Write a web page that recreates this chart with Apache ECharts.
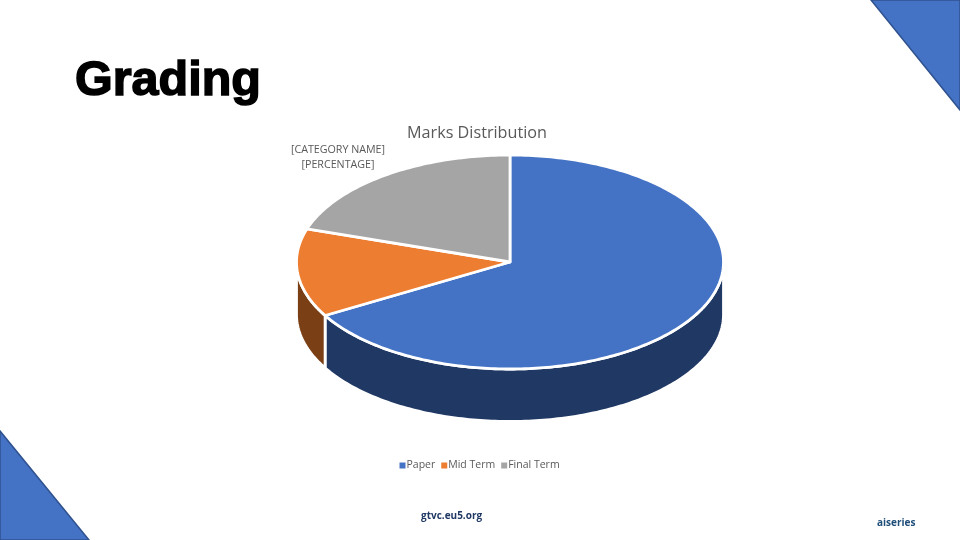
<!DOCTYPE html>
<html>
<head>
<meta charset="utf-8">
<title>Grading</title>
<style>
  html, body { margin: 0; padding: 0; background: #fff; }
  #chart { width: 960px; height: 540px; }
</style>
<script src="https://cdn.jsdelivr.net/npm/echarts@6/dist/echarts.min.js"></script>
</head>
<body>
<div id="chart"></div>
<script>
var categories = ['Paper', 'Mid Term', 'Final Term']
var marks = [100, 20, 30]
var topColors = ['#4472c4', '#ed7d31', '#a5a5a5']
var sideColors = ['#203864', '#7a3f14', '#636363']
var sliceLabel = '[CATEGORY NAME]\n[PERCENTAGE]'

// 饼图在画布上的位置（透视成椭圆）
var pie = { cx: 510, cy: 262, rx: 213.5, ry: 107, depth: 52.5 }
var total = marks.reduce(function (a, b) { return a + b }, 0)

function pointAt(deg, dy) {
  var r = deg * Math.PI / 180
  return [pie.cx + pie.rx * Math.sin(r), pie.cy - pie.ry * Math.cos(r) + dy]
}

function arc(from, to, dy) {
  var pts = []
  var n = Math.max(2, Math.ceil(to - from))
  for (var i = 0; i <= n; i++) {
    pts.push(pointAt(from + (to - from) * i / n, dy))
  }
  return pts
}

function renderSlice(index) {
  var start = 0
  for (var i = 0; i < index; i++) start += marks[i] / total * 360
  var end = start + marks[index] / total * 360

  return function () {
    var children = []
    // 侧面：只画朝前的部分（90° 到 270°）
    var a = Math.max(start, 90)
    var b = Math.min(end, 270)
    if (b > a) {
      var wall = arc(a, b, 0).concat(arc(a, b, pie.depth).reverse())
      children.push({
        type: 'polygon',
        shape: { points: wall },
        style: { fill: sideColors[index], stroke: '#fff', lineWidth: 2.8, lineJoin: 'round' }
      })
    }
    // 顶面
    var top = [[pie.cx, pie.cy]].concat(arc(start, end, 0))
    children.push({
      type: 'polygon',
      shape: { points: top },
      style: { fill: topColors[index], stroke: '#fff', lineWidth: 2.8, lineJoin: 'round' }
    })
    return { type: 'group', children: children }
  }
}

var myChart = echarts.init(document.getElementById('chart'))
var option = {
  animation: false,
  color: topColors,
  title: [
    {
      text: 'Grading',
      left: 70,
      top: 52,
      textStyle: { fontFamily: 'Liberation Sans', fontSize: 48.5, fontWeight: 'bold', color: '#000', textBorderColor: '#000', textBorderWidth: 1.5 }
    },
    {
      text: 'Marks Distribution',
      left: 407,
      top: 125,
      padding: 0,
      textStyle: { fontFamily: 'Open Sans', fontSize: 16.2, fontWeight: 'normal', color: '#595959' }
    },
    {
      text: sliceLabel,
      left: 338,
      top: 142,
      padding: 0,
      textAlign: 'center',
      textStyle: { fontFamily: 'Open Sans', fontSize: 10.7, fontWeight: 'normal', color: '#595959', lineHeight: 15 }
    }
  ],
  legend: {
    data: categories,
    left: 399.5,
    top: 460,
    padding: 0,
    itemWidth: 6,
    itemHeight: 6,
    itemGap: 6,
    icon: 'rect',
    textStyle: { fontFamily: 'Open Sans', fontSize: 10.5, color: '#595959', padding: [0, 0, 0, -4] }
  },
  series: categories.map(function (name, i) {
    return {
      name: name,
      type: 'custom',
      coordinateSystem: 'none',
      silent: true,
      data: [[marks[i]]],
      renderItem: renderSlice(i)
    }
  }),
  graphic: [
    {
      type: 'polygon',
      shape: { points: [[871, 0], [960, 0], [960, 110]] },
      style: { fill: '#4472c4', stroke: '#2f528f', lineWidth: 1.5 }
    },
    {
      type: 'polygon',
      shape: { points: [[0, 431], [0, 540], [89, 540]] },
      style: { fill: '#4472c4', stroke: '#2f528f', lineWidth: 1.5 }
    },
    {
      type: 'text',
      left: 421,
      top: 511,
      style: { text: 'gtvc.eu5.org', fontFamily: 'Open Sans', fontSize: 10, fontWeight: 'bold', fill: '#1f3864' }
    },
    {
      type: 'text',
      left: 877,
      top: 518,
      style: { text: 'aiseries', fontFamily: 'Open Sans', fontSize: 10, fontWeight: 'bold', fill: '#1f4e79' }
    }
  ]
}
myChart.setOption(option)
window.addEventListener('resize', function () {
  myChart.resize()
})
</script>
</body>
</html>
